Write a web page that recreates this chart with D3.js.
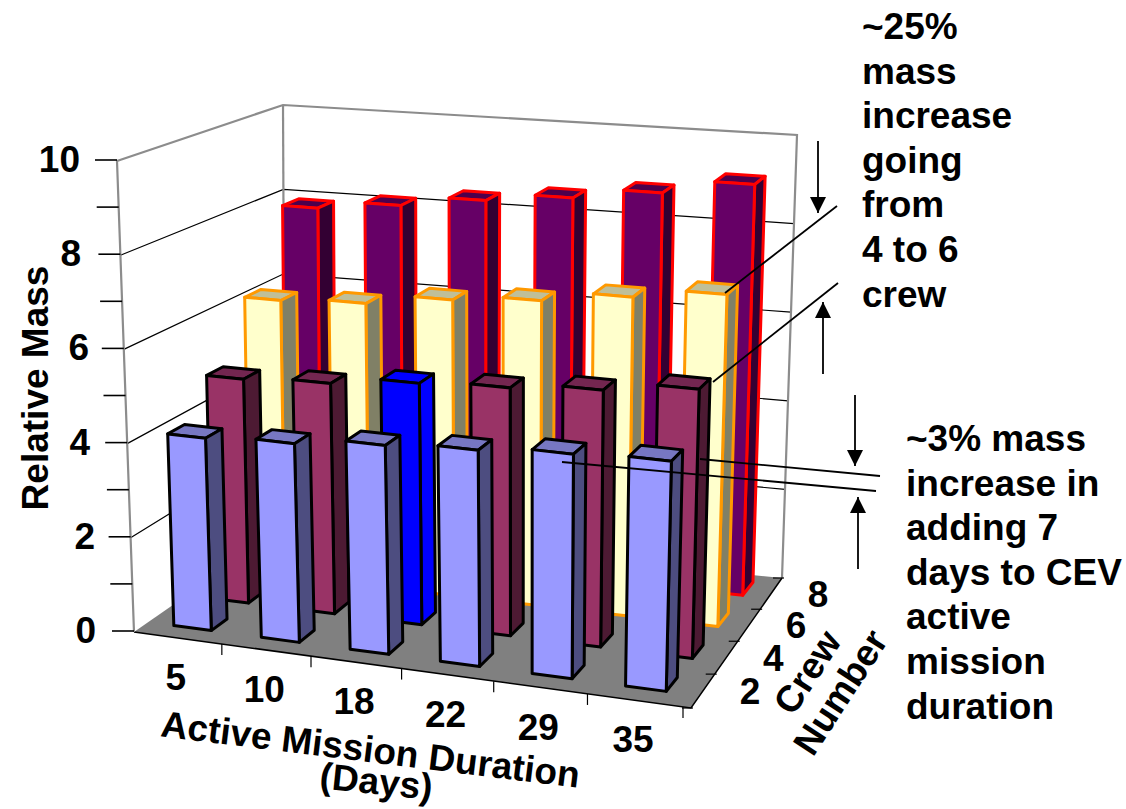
<!DOCTYPE html>
<html>
<head>
<meta charset="utf-8">
<script src="https://cdn.jsdelivr.net/npm/d3@7"></script>
<style>
html,body{margin:0;padding:0;background:#fff}
svg{display:block}
text{font-family:"Liberation Sans",Arial,sans-serif;font-weight:bold;fill:#000}
</style>
</head>
<body>
<svg id="chart" width="1126" height="809"></svg>
<script>
// Relative vehicle mass by mission duration and crew size
const durations = [5, 10, 18, 22, 29, 35];
const crewSizes = [2, 4, 6, 8];
const crew2 = [4.1, 4.2, 4.38, 4.5, 4.64, 4.72];
const crew4 = [4.9, 5.0, 5.2, 5.3, 5.45, 5.67];
const crew6 = [6.2, 6.3, 6.55, 6.7, 6.95, 7.18];
const crew8 = [7.9, 8.1, 8.35, 8.55, 8.8, 9.13];
const massByCrew = [crew2, crew4, crew6, crew8];
const massTicks = [0, 1, 2, 3, 4, 5, 6, 7, 8, 9, 10];
const massTickLabels = [0, 2, 4, 6, 8, 10];
const massLabelRight = [96, 95, 90, 89, 81, 80];
const highlightedBar = { crew: 4, duration: 18 };

const seriesStyles = [
  { front: "#9999FF", side: "#4D4D80", top: "#7777C2", edge: "#000000" },
  { front: "#993366", side: "#4D1A33", top: "#732650", edge: "#000000" },
  { front: "#FFFFCC", side: "#808066", top: "#BFBF99", edge: "#FF9900" },
  { front: "#660066", side: "#330033", top: "#4D004D", edge: "#FF0000" }
];
const highlightStyle = { front: "#0000FF", side: "#0000FF", top: "#0000FF", edge: "#000000" };

const upperNote = ["~25%", "mass", "increase", "going", "from", "4 to 6", "crew"];
const lowerNote = ["~3% mass", "increase in", "adding 7", "days to CEV", "active", "mission", "duration"];
const leaderLines = [
  [725, 293, 837, 206],
  [713, 382, 838, 283],
  [700, 459, 880, 476],
  [562, 462, 876, 491]
];
const arrows = [
  [818, 141, 818, 213],
  [823, 374, 823, 302],
  [855, 395, 855, 466],
  [858, 569, 858, 497]
];

// Box corners on screen, ordered front-left, front-right, back-right, back-left.
// The painted floor runs a little past the last duration tick at its front-right tip.
const floorQuad = [[134, 632], [691, 708], [782, 578], [285, 527]];
const plotFloorQuad = [[134, 632], [683, 707], [782, 578], [285, 527]];
const plotCeilingQuad = [[117, 161], [696, 214], [797, 135], [283, 105]];
const perspectiveAmount = 0.35;

// Unit-square to quadrilateral mapping, part perspective and part bilinear
function quadMapping(q) {
  const [[x0, y0], [x1, y1], [x2, y2], [x3, y3]] = q;
  const dx1 = x1 - x2, dx2 = x3 - x2, sx = x0 - x1 + x2 - x3;
  const dy1 = y1 - y2, dy2 = y3 - y2, sy = y0 - y1 + y2 - y3;
  const det = dx1 * dy2 - dx2 * dy1;
  const g = (sx * dy2 - dx2 * sy) / det;
  const h = (dx1 * sy - sx * dy1) / det;
  const a = x1 - x0 + g * x1, b = x3 - x0 + h * x3;
  const d = y1 - y0 + g * y1, e = y3 - y0 + h * y3;
  const bilinear = (p0, p1, p2, p3, u, v) =>
    (p0 * (1 - u) + p1 * u) * (1 - v) + (p3 * (1 - u) + p2 * u) * v;
  return (u, v) => {
    const w = g * u + h * v + 1;
    const px = (a * u + b * v + x0) / w, py = (d * u + e * v + y0) / w;
    const t = perspectiveAmount;
    return [px * t + bilinear(x0, x1, x2, x3, u, v) * (1 - t),
            py * t + bilinear(y0, y1, y2, y3, u, v) * (1 - t)];
  };
}
const paintedFloorAt = quadMapping(floorQuad);
const floorAt = quadMapping(plotFloorQuad);
const ceilingAt = quadMapping(plotCeilingQuad);

// Scales: duration and crew give floor position, mass gives height in the box
const massScale = d3.scaleLinear().domain([0, 10]).range([0, 1]);
const durationScale = d3.scaleBand().domain(durations).range([0, 1])
  .paddingInner(0.57).paddingOuter(0.285).align(0.52);
const crewScale = d3.scaleBand().domain(crewSizes).range([0, 1])
  .paddingInner(0.58).paddingOuter(0.29).align(0.62);
const durationAxisPos = d3.scalePoint().domain(d3.range(durations.length + 1)).range([0, 1]);
const crewAxisPos = d3.scalePoint().domain(d3.range(crewSizes.length + 1)).range([0, 1]);

function project(u, v, h) {
  const [fx, fy] = floorAt(u, v);
  const [cx, cy] = ceilingAt(u, v);
  return [fx + (cx - fx) * h, fy + (cy - fy) * h];
}

const svg = d3.select("#chart");
const linePath = d3.line();
const polygon = pts => linePath(pts) + "Z";
const wallGray = "#8C8C8C";

// Gridlines on the left and back walls
const gridValues = massTickLabels.filter(v => v > 0 && v < 10);
svg.selectAll("path.grid").data(gridValues).join("path")
  .attr("class", "grid")
  .attr("d", v => {
    const h = massScale(v);
    return linePath([project(0, 0, h), project(0, 1, h), project(1, 1, h)]);
  })
  .attr("fill", "none").attr("stroke", "#000").attr("stroke-width", 1.2);

// Floor
svg.append("path")
  .attr("d", polygon(floorQuad))
  .attr("fill", "#808080");
svg.append("path")
  .attr("d", linePath([floorQuad[0], floorQuad[1], floorQuad[2]]))
  .attr("fill", "none").attr("stroke", "#000").attr("stroke-width", 1.5);

// Box outline
svg.append("path")
  .attr("d", linePath([project(0, 0, 0), project(0, 0, 1), project(0, 1, 1), project(1, 1, 1), project(1, 1, 0)]))
  .attr("fill", "none").attr("stroke", wallGray).attr("stroke-width", 2.2);
svg.append("path")
  .attr("d", linePath([project(0, 1, 1), project(0, 1, 0)]))
  .attr("fill", "none").attr("stroke", wallGray).attr("stroke-width", 2.2);

// Mass axis ticks and labels
svg.selectAll("line.mass-tick").data(massTicks).join("line")
  .attr("class", "mass-tick")
  .attr("x1", v => project(0, 0, massScale(v))[0] - 22)
  .attr("x2", v => project(0, 0, massScale(v))[0])
  .attr("y1", v => project(0, 0, massScale(v))[1] - 1)
  .attr("y2", v => project(0, 0, massScale(v))[1] - 1)
  .attr("stroke", "#000").attr("stroke-width", 1.6);
svg.selectAll("text.mass-label").data(massTickLabels).join("text")
  .attr("class", "mass-label")
  .attr("x", (d, i) => massLabelRight[i])
  .attr("y", v => project(0, 0, massScale(v))[1] + 11)
  .attr("text-anchor", "end")
  .attr("font-size", 37)
  .text(d => d);

// Duration axis ticks and labels
const durationMid = i => (durationAxisPos(i) + durationAxisPos(i + 1)) / 2;
svg.selectAll("line.duration-tick").data(d3.range(1, durations.length + 1)).join("line")
  .attr("class", "duration-tick")
  .attr("x1", i => project(durationAxisPos(i), 0, 0)[0])
  .attr("x2", i => project(durationAxisPos(i), 0, 0)[0])
  .attr("y1", i => project(durationAxisPos(i), 0, 0)[1])
  .attr("y2", i => project(durationAxisPos(i), 0, 0)[1] + 11)
  .attr("stroke", "#000").attr("stroke-width", 1.2);
svg.selectAll("text.duration-label").data(durations).join("text")
  .attr("class", "duration-label")
  .attr("x", (d, i) => project(durationMid(i), 0, 0)[0] - 2)
  .attr("y", (d, i) => project(durationMid(i), 0, 0)[1] + 52)
  .attr("text-anchor", "middle")
  .attr("font-size", 37)
  .text(d => d);

// Crew axis ticks and labels
const crewMid = i => (crewAxisPos(i) + crewAxisPos(i + 1)) / 2;
svg.selectAll("line.crew-tick").data(d3.range(0, crewSizes.length + 1)).join("line")
  .attr("class", "crew-tick")
  .attr("x1", i => paintedFloorAt(1, crewAxisPos(i))[0] - 9)
  .attr("x2", i => paintedFloorAt(1, crewAxisPos(i))[0] + 2)
  .attr("y1", i => paintedFloorAt(1, crewAxisPos(i))[1])
  .attr("y2", i => paintedFloorAt(1, crewAxisPos(i))[1])
  .attr("stroke", "#000").attr("stroke-width", 1.2);
svg.selectAll("text.crew-label").data(crewSizes).join("text")
  .attr("class", "crew-label")
  .attr("x", (d, i) => paintedFloorAt(1, crewMid(i))[0] + 47)
  .attr("y", (d, i) => paintedFloorAt(1, crewMid(i))[1] + 13)
  .attr("text-anchor", "middle")
  .attr("font-size", 37)
  .text(d => d);

// Bars, painted from the back row forward
const bars = crewSizes.flatMap((crew, r) =>
  durations.map((duration, c) => ({
    crew, duration, mass: massByCrew[r][c], row: r,
    style: crew === highlightedBar.crew && duration === highlightedBar.duration
      ? highlightStyle : seriesStyles[r]
  }))
).sort((a, b) => d3.descending(a.row, b.row) || d3.ascending(a.duration, b.duration));

const barGroups = svg.selectAll("g.bar").data(bars).join("g").attr("class", "bar");
barGroups.each(function (d) {
  const u0 = durationScale(d.duration), u1 = u0 + durationScale.bandwidth();
  const v0 = crewScale(d.crew), v1 = v0 + crewScale.bandwidth();
  const h = massScale(d.mass);
  const faces = [
    { fill: d.style.top, pts: [project(u0, v0, h), project(u1, v0, h), project(u1, v1, h), project(u0, v1, h)] },
    { fill: d.style.side, pts: [project(u1, v0, 0), project(u1, v1, 0), project(u1, v1, h), project(u1, v0, h)] },
    { fill: d.style.front, pts: [project(u0, v0, 0), project(u1, v0, 0), project(u1, v0, h), project(u0, v0, h)] }
  ];
  d3.select(this).selectAll("path").data(faces).join("path")
    .attr("d", f => polygon(f.pts))
    .attr("fill", f => f.fill)
    .attr("stroke", d.style.edge)
    .attr("stroke-width", 3)
    .attr("stroke-linejoin", "round");
});

// Axis titles
svg.append("text")
  .attr("transform", "translate(48,388) rotate(-90)")
  .attr("text-anchor", "middle").attr("font-size", 37)
  .text("Relative Mass");
svg.append("text")
  .attr("transform", "translate(369,762) rotate(7)")
  .attr("text-anchor", "middle").attr("font-size", 37)
  .text("Active Mission Duration");
svg.append("text")
  .attr("transform", "translate(375,794) rotate(6)")
  .attr("text-anchor", "middle").attr("font-size", 37)
  .text("(Days)");
svg.append("text")
  .attr("transform", "translate(818,679) rotate(-57)")
  .attr("text-anchor", "middle").attr("font-size", 37)
  .text("Crew");
svg.append("text")
  .attr("transform", "translate(851,699) rotate(-57)")
  .attr("text-anchor", "middle").attr("font-size", 37)
  .text("Number");

// Callout text
svg.selectAll("text.upper-note").data(upperNote).join("text")
  .attr("class", "upper-note")
  .attr("x", 862).attr("y", (d, i) => 39 + i * 44.6)
  .attr("font-size", 37).text(d => d);
svg.selectAll("text.lower-note").data(lowerNote).join("text")
  .attr("class", "lower-note")
  .attr("x", 906).attr("y", (d, i) => 451 + i * 44.6)
  .attr("font-size", 37).text(d => d);

// Callout leaders and arrows
svg.selectAll("line.leader").data(leaderLines).join("line")
  .attr("class", "leader")
  .attr("x1", d => d[0]).attr("y1", d => d[1])
  .attr("x2", d => d[2]).attr("y2", d => d[3])
  .attr("stroke", "#000").attr("stroke-width", 1.8);
svg.append("defs").append("marker")
  .attr("id", "head").attr("viewBox", "0 0 16 16")
  .attr("refX", 16).attr("refY", 8)
  .attr("markerWidth", 16).attr("markerHeight", 16)
  .attr("markerUnits", "userSpaceOnUse").attr("orient", "auto")
  .append("path").attr("d", "M0,0L16,8L0,16Z").attr("fill", "#000");
svg.selectAll("line.arrow").data(arrows).join("line")
  .attr("class", "arrow")
  .attr("x1", d => d[0]).attr("y1", d => d[1])
  .attr("x2", d => d[2]).attr("y2", d => d[3])
  .attr("stroke", "#000").attr("stroke-width", 1.8)
  .attr("marker-end", "url(#head)");
</script>
</body>
</html>
